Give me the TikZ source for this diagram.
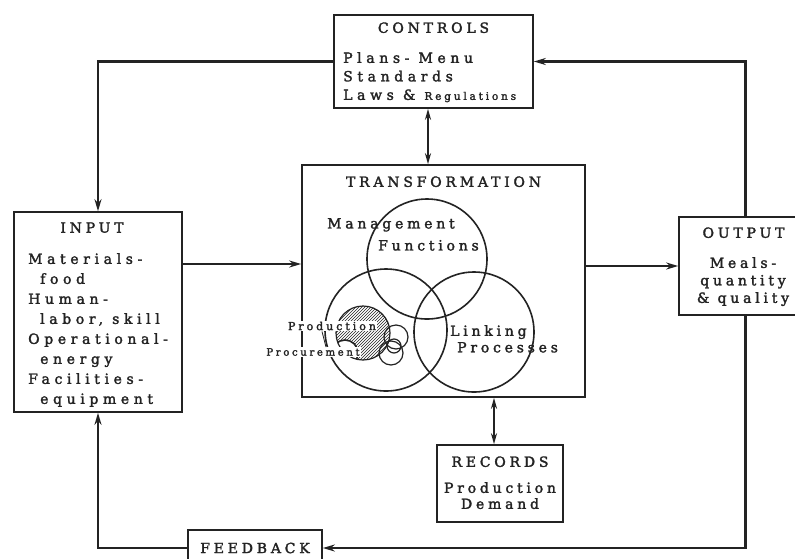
\documentclass[tikz,border=0pt]{standalone}
\usepackage{fontspec}
\setmainfont{DejaVu Serif}[LetterSpace=27, FakeBold=2]
\newfontfamily\widefont{DejaVu Serif}[LetterSpace=33, FakeBold=2]
\usetikzlibrary{arrows.meta,positioning,patterns}

\definecolor{ink}{RGB}{35,35,35}

\begin{document}
\begin{tikzpicture}[
    x=1pt, y=-1pt,
    every node/.style={text=ink, font=\fontsize{14}{19}\selectfont},
    box/.style={draw=ink, line width=1.6pt, inner sep=0pt},
    title/.style={inner sep=0pt, font=\fontsize{14}{16}\selectfont},
    body/.style={align=left, inner sep=0pt, anchor=north west},
    arr/.style={-{Stealth[length=12pt,width=7pt]}, draw=ink, line width=2.2pt},
    dbl/.style={{Stealth[length=11pt,width=6pt]}-{Stealth[length=11pt,width=6pt]}, draw=ink, line width=2.2pt},
    ring/.style={draw=ink, line width=1.6pt},
    tag/.style={fill=white, inner sep=1pt}
]
\useasboundingbox[fill=white] (0,0) rectangle (795,558);

% boxes
\node[box, minimum width=199pt, minimum height=93pt]  (ctrl)  at (433.5,61.5) {};
\node[box, minimum width=283pt, minimum height=232pt] (trans) at (443.5,281) {};
\node[box, minimum width=168pt, minimum height=200pt] (inp)   at (98,312) {};
\node[box, minimum width=133pt, minimum height=98pt]  (out)   at (745.5,266) {};
\node[box, minimum width=126pt, minimum height=77pt]  (rec)   at (500,483.5) {};
\node[box, minimum width=134pt, minimum height=36pt]  (fb)    at (255,548) {};

% titles
\node[title, below=8pt of ctrl.north]  (ctrlT)  {CONTROLS};
\node[title, below=12pt of trans.north] (transT) {TRANSFORMATION};
\node[title, below=11pt of inp.north, xshift=-6pt] (inpT) {INPUT};
\node[title, below=11pt of out.north, xshift=-2pt] (outT) {OUTPUT};
\node[title, below=12pt of rec.north]  (recT)   {RECORDS};
\node[title] (fbT) at (fb) {FEEDBACK};

% box texts
\node[body, font=\widefont\fontsize{14}{18.5}\selectfont] (ctrlB) at (343,52)
  {Plans- Menu\\Standards\\Laws \& {\normalfont\fontsize{10.5}{12}\selectfont Regulations}};
\node[body, font=\widefont\fontsize{14}{20}\selectfont] (inpB) at (28,253)
  {Materials-\\\hspace*{12pt}food\\Human-\\\hspace*{12pt}labor, skill\\Operational-\\\hspace*{12pt}energy\\Facilities-\\\hspace*{12pt}equipment};
\node[align=center, inner sep=0pt, anchor=north, font=\fontsize{14}{17.5}\selectfont] (outB) at (743,257)
  {Meals-\\quantity\\\& quality};
\node[align=center, inner sep=0pt, anchor=north, font=\fontsize{14}{16}\selectfont] (recB) at (500,482)
  {Production\\Demand};

% venn circles
\draw[ring] (427,259) circle (60pt);
\draw[ring] (386,330) circle (61pt);
\draw[ring] (474,332) circle (60pt);
\begin{scope}
  \clip (363,333) circle (27pt);
  \fill[pattern=north east lines, pattern color=ink, even odd rule] (363,333) circle (27pt) (345,353) circle (13pt);
  \draw[ring] (345,353) circle (13pt);
\end{scope}
\draw[ring, line width=1.2pt] (363,333) circle (27pt);
\draw[ring, line width=1.2pt] (396,337) circle (12pt);
\draw[ring, line width=1.2pt] (391,353) circle (12pt);
\draw[ring, line width=1.2pt] (394,346) circle (7pt);

\node[body, font=\fontsize{14}{22}\selectfont] (mgmt) at (327,218)
  {Management\\\hspace*{51pt}Functions};
\node[body, font=\fontsize{14}{16.5}\selectfont] (link) at (450,325)
  {Linking\\\hspace*{7pt}Processes};
\node[tag, font=\fontsize{11}{12}\selectfont] (prod) at (332,326) {Production};
\node[tag, font=\fontsize{10}{11}\selectfont] (proc) at (313,352) {Procurement};
\draw[ink, line width=0.8pt] (prod.south -| 322,0) -- (proc.north -| 326,0);

% connectors
\draw[arr] (ctrl.west) -| (inp.north);
\draw[arr] (out.north) |- (ctrl.east);
\draw[arr] (inp.east |- 0,264) -- (trans.west |- 0,264);
\draw[arr] (trans.east |- out.west) -- (out.west);
\draw[dbl] (ctrl.south -| 428,0) -- (trans.north -| 428,0);
\draw[dbl] (trans.south -| 494,0) -- (rec.north -| 494,0);
\draw[arr] (out.south) |- (fb.east);
\draw[arr] (fb.west) -| (inp.south);
\end{tikzpicture}
\end{document}
